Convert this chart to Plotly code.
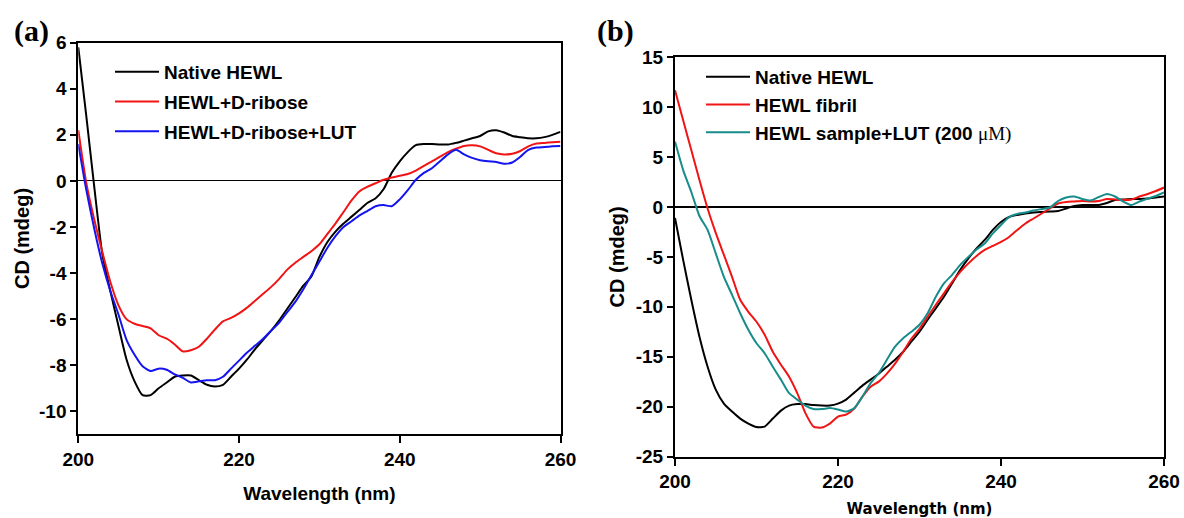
import plotly.graph_objects as go

# ---------------- data ----------------
wavelength = list(range(200, 261))

# Panel (a)
a_native = [5.8, 2.8, -0.3, -3.2, -4.8, -6.3, -7.75, -8.7, -9.3, -9.3,
            -9.0, -8.75, -8.5, -8.45, -8.45, -8.65, -8.85, -8.92, -8.85, -8.5,
            -8.15, -7.75, -7.3, -6.9, -6.5, -6.05, -5.55, -5.05, -4.55, -4.15,
            -3.3, -2.65, -2.2, -1.85, -1.55, -1.25, -0.95, -0.75, -0.35, 0.35,
            0.85, 1.25, 1.55, 1.6, 1.6, 1.58, 1.58, 1.65, 1.75, 1.85,
            1.95, 2.15, 2.2, 2.1, 1.95, 1.9, 1.85, 1.85, 1.9, 2.0, 2.13]
a_ribose = [2.2, -0.1, -1.7, -3.1, -4.4, -5.4, -6.0, -6.2, -6.3, -6.4,
            -6.7, -6.85, -7.1, -7.4, -7.35, -7.2, -6.85, -6.45, -6.1, -5.95,
            -5.75, -5.5, -5.2, -4.9, -4.6, -4.25, -3.85, -3.55, -3.3, -3.05,
            -2.75, -2.3, -1.85, -1.35, -0.85, -0.45, -0.25, -0.1, 0.05, 0.15,
            0.22, 0.3, 0.45, 0.65, 0.85, 1.05, 1.25, 1.4, 1.52, 1.55,
            1.5, 1.35, 1.2, 1.15, 1.18, 1.3, 1.5, 1.62, 1.65, 1.68, 1.7]
a_ribose_lut = [1.6, -0.4, -2.1, -3.6, -4.8, -5.8, -6.9, -7.55, -8.05, -8.25,
                -8.15, -8.2, -8.4, -8.55, -8.75, -8.7, -8.65, -8.65, -8.5, -8.15,
                -7.8, -7.45, -7.15, -6.85, -6.5, -6.15, -5.7, -5.25, -4.7, -4.1,
                -3.5, -2.9, -2.4, -2.0, -1.75, -1.5, -1.3, -1.1, -1.05, -1.1,
                -0.8, -0.4, 0.05, 0.35, 0.55, 0.85, 1.15, 1.35, 1.15, 1.0,
                0.9, 0.85, 0.82, 0.75, 0.8, 1.05, 1.35, 1.45, 1.47, 1.5, 1.52]

# Panel (b)
b_native = [-1.1, -5.3, -9.3, -13.0, -16.0, -18.3, -19.7, -20.5, -21.2, -21.7,
            -22.05, -22.0, -21.2, -20.4, -19.9, -19.75, -19.75, -19.85, -19.9, -19.9,
            -19.7, -19.3, -18.6, -17.9, -17.3, -16.7, -16.0, -15.3, -14.5, -13.5,
            -12.5, -11.3, -10.15, -9.0, -7.65, -6.3, -5.15, -4.15, -3.3, -2.3,
            -1.5, -1.0, -0.8, -0.65, -0.55, -0.5, -0.45, -0.4, -0.15, 0.1,
            0.2, 0.2, 0.2, 0.4, 0.7, 0.75, 0.8, 0.8, 0.85, 0.95, 1.05]
b_fibril = [11.7, 8.7, 5.7, 2.7, -0.15, -2.6, -4.8, -7.0, -9.3, -10.5,
            -11.5, -12.8, -14.5, -15.8, -17.0, -18.65, -20.65, -22.0, -22.1, -21.7,
            -21.0, -20.8, -20.2, -19.0, -18.0, -17.5, -16.7, -15.7, -14.5, -13.2,
            -12.2, -11.0, -9.8, -8.65, -7.5, -6.5, -5.65, -4.9, -4.3, -3.9,
            -3.5, -3.0, -2.3, -1.65, -1.15, -0.65, -0.15, 0.35, 0.5, 0.55,
            0.6, 0.55, 0.6, 0.8, 0.75, 0.7, 0.75, 1.05, 1.3, 1.6, 1.95]
b_lut = [6.55, 3.7, 1.5, -0.9, -2.3, -4.65, -7.0, -8.8, -10.65, -12.3,
         -13.65, -14.65, -16.0, -17.3, -18.65, -19.3, -19.9, -20.25, -20.25, -20.15,
         -20.3, -20.5, -20.15, -19.0, -17.65, -16.65, -15.3, -14.0, -13.15, -12.5,
         -11.8, -10.65, -9.0, -7.65, -6.8, -5.8, -5.0, -4.25, -3.65, -2.65,
         -1.8, -1.0, -0.7, -0.55, -0.35, -0.2, -0.05, 0.6, 0.95, 1.05,
         0.8, 0.65, 1.0, 1.3, 1.05, 0.55, 0.2, 0.55, 0.85, 1.1, 1.45]

x_ticks = [200, 220, 240, 260]
a_yticks = [6, 4, 2, 0, -2, -4, -6, -8, -10]
a_yticklabels = ["6", "4", "2", "0", "-2", "-4", "-6", "-8", "-10"]
b_yticks = [15, 10, 5, 0, -5, -10, -15, -20, -25]
b_yticklabels = ["15", "10", "5", "0", "-5", "-10", "-15", "-20", "-25"]

a_names = ["Native HEWL", "HEWL+D-ribose", "HEWL+D-ribose+LUT"]
b_names = ["Native HEWL", "HEWL fibril",
           "HEWL sample+LUT (200 <span style='font-family:Liberation Serif, Times New Roman, serif;font-weight:normal'>μM)</span>"]

# ---------------- styling ----------------
W, H = 1184, 518
SANS = "Liberation Sans, Arial, sans-serif"
SERIF = "Liberation Serif, Times New Roman, serif"
BLACK, RED, BLUE, TEAL = "#000000", "#f01414", "#1414f0", "#178c8a"


def px_x(p):
    return p / W


def px_y(p):
    return 1 - p / H


fig = go.Figure()

for ys, name, col in zip([a_native, a_ribose, a_ribose_lut], a_names, [BLACK, RED, BLUE]):
    fig.add_trace(go.Scatter(x=wavelength, y=ys, name=name, mode="lines",
                             line=dict(color=col, width=2, shape="spline", smoothing=0.6),
                             xaxis="x", yaxis="y", legend="legend", legendgroup="a" + name))

for ys, name, col in zip([b_native, b_fibril, b_lut], b_names, [BLACK, RED, TEAL]):
    fig.add_trace(go.Scatter(x=wavelength, y=ys, name=name, mode="lines",
                             line=dict(color=col, width=2, shape="spline", smoothing=0.6),
                             xaxis="x2", yaxis="y2", legend="legend2", legendgroup="b" + name))

tickfont = dict(family=SANS, size=19, color="black", weight="bold")
common_x = dict(range=[200, 260], tickvals=x_ticks, ticks="outside", ticklen=7, tickwidth=2,
                tickcolor="black", showline=True, linewidth=2, linecolor="black", mirror=True,
                showgrid=False, zeroline=False, tickfont=tickfont, automargin=False)
common_y = dict(ticks="outside", ticklen=6, tickwidth=2, tickcolor="black", showline=True,
                linewidth=2, linecolor="black", mirror=True, showgrid=False, zeroline=True,
                zerolinecolor="black", tickfont=tickfont, automargin=False)

fig.update_layout(
    width=W, height=H,
    margin=dict(l=0, r=0, t=0, b=0),
    paper_bgcolor="white", plot_bgcolor="white",
    xaxis=dict(common_x, domain=[px_x(78.3), px_x(560.5)], anchor="y",
               title=dict(text="Wavelength (nm)", standoff=18,
                          font=dict(family=SANS, size=19, color="black", weight="bold"))),
    yaxis=dict(common_y, domain=[px_y(434.3), px_y(42.7)], anchor="x", range=[-11, 6],
               tickvals=a_yticks, ticktext=a_yticklabels, zerolinewidth=1.3,
               title=dict(text="CD (mdeg)", standoff=4,
                          font=dict(family=SANS, size=20, color="black", weight="bold"))),
    xaxis2=dict(common_x, domain=[px_x(675), px_x(1164)], anchor="y2",
                title=dict(text="Wavelength (nm)", standoff=14,
                           font=dict(family="DejaVu Sans, sans-serif", size=15, color="black", weight="bold"))),
    yaxis2=dict(common_y, domain=[px_y(456.5), px_y(57.3)], anchor="x2", range=[-25, 15],
                tickvals=b_yticks, ticktext=b_yticklabels, zerolinewidth=2,
                title=dict(text="CD (mdeg)", standoff=6,
                           font=dict(family=SANS, size=20, color="black", weight="bold"))),
    legend=dict(x=px_x(110), y=px_y(53), xanchor="left", yanchor="top",
                bgcolor="rgba(0,0,0,0)", tracegroupgap=2, itemwidth=44,
                font=dict(family=SANS, size=19, color="black", weight="bold")),
    legend2=dict(x=px_x(701), y=px_y(58), xanchor="left", yanchor="top",
                 bgcolor="rgba(0,0,0,0)", tracegroupgap=0, itemwidth=44,
                 font=dict(family=SANS, size=19, color="black", weight="bold")),
    showlegend=True,
    annotations=[
        dict(text="(a)", x=px_x(31), y=px_y(31), xref="paper", yref="paper",
             xanchor="center", yanchor="middle", showarrow=False,
             font=dict(family=SERIF, size=30, color="black", weight="bold")),
        dict(text="(b)", x=px_x(615), y=px_y(31), xref="paper", yref="paper",
             xanchor="center", yanchor="middle", showarrow=False,
             font=dict(family=SERIF, size=30, color="black", weight="bold")),
    ],
)

fig.write_html("out.html",
               config={"displayModeBar": False},
               post_script="document.body.style.margin='0';document.body.style.overflow='hidden';")
